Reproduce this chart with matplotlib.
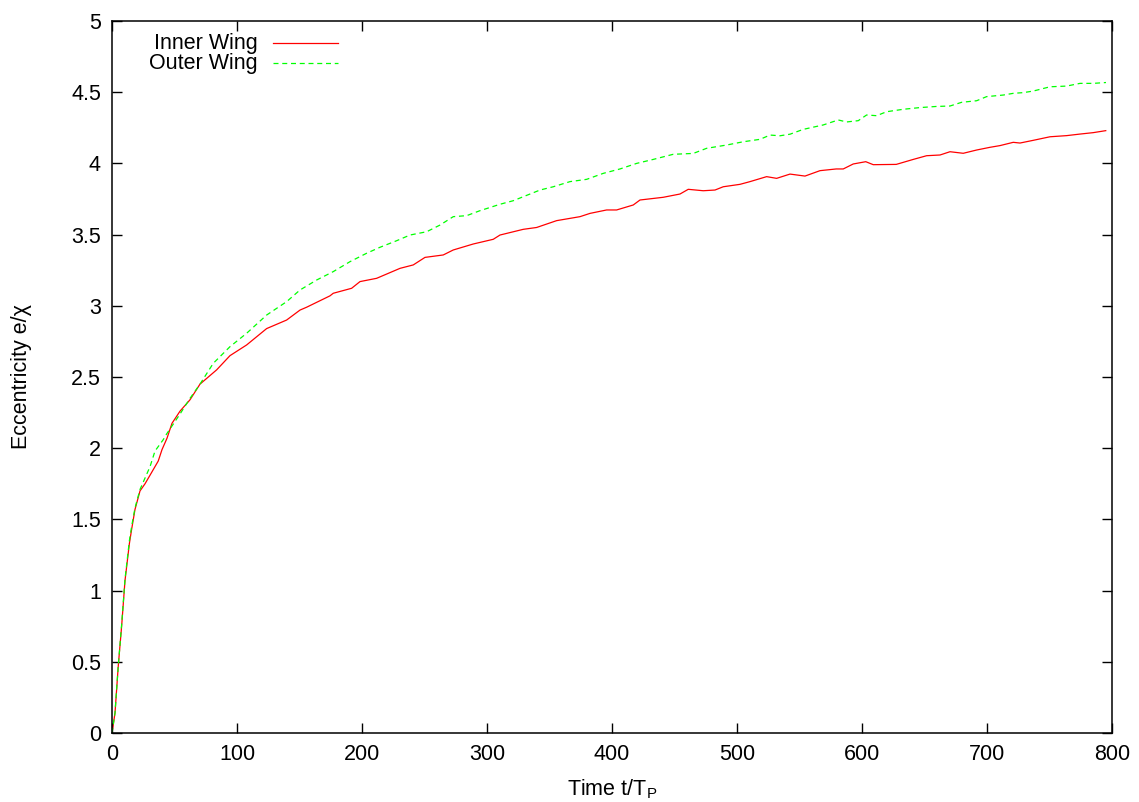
import matplotlib
matplotlib.use('Agg')
import matplotlib.pyplot as plt

# --- data (time t/T_P, eccentricity e/chi) ---
t_inner = [0, 2.4, 5, 7.7, 10.4, 13.9, 15.7, 18.4, 22.4, 26.4, 30.4, 37, 40, 44, 48,
           54.4, 62.4, 70.4, 83.7, 94.4, 107.7, 123.7, 139.7, 150.4, 155.7, 174.4, 177,
           191.7, 198.4, 211.7, 230.4, 241, 250.4, 265, 273, 289, 305, 310.4, 329, 339.7,
           355.7, 374.4, 382.4, 395.7, 403.7, 417, 422.4, 441, 454.4, 461, 473, 482.4,
           489, 502.4, 510.4, 523.7, 531.7, 542.4, 554.4, 566.4, 579.4, 585, 593, 603,
           609, 627.4, 641, 651.7, 662.4, 670.4, 681, 691.7, 702.4, 710.4, 721, 726.4,
           737, 750.4, 763.7, 774.4, 785, 795]
e_inner = [0, 0.14, 0.47, 0.75, 1.07, 1.33, 1.43, 1.57, 1.70, 1.75, 1.81, 1.91, 1.99, 2.07, 2.175,
           2.26, 2.34, 2.45, 2.55, 2.65, 2.725, 2.84, 2.90, 2.97, 2.99, 3.07, 3.088,
           3.123, 3.17, 3.193, 3.263, 3.287, 3.34, 3.357, 3.392, 3.434, 3.467, 3.497, 3.537, 3.55,
           3.598, 3.626, 3.649, 3.673, 3.673, 3.708, 3.743, 3.762, 3.785, 3.818, 3.808, 3.813,
           3.836, 3.853, 3.872, 3.907, 3.895, 3.925, 3.911, 3.949, 3.961, 3.961, 3.996, 4.012,
           3.991, 3.993, 4.028, 4.054, 4.059, 4.082, 4.071, 4.094, 4.113, 4.125, 4.148, 4.143,
           4.162, 4.187, 4.195, 4.206, 4.216, 4.23]

t_outer = [0, 2.4, 5, 7.7, 10.4, 13.9, 15.7, 18.4, 22.4, 26.4, 30.4, 34.4, 41, 43.7, 54.4,
           62.4, 70.4, 81, 94.4, 107.7, 123.7, 139.7, 150.4, 163.7, 177, 190.4, 203.7,
           214.4, 227.7, 238.4, 251.7, 262.4, 273, 283.7, 294.4, 310.4, 321, 337, 342.4,
           353, 366.4, 379.7, 393, 406.4, 419.7, 433, 449, 465, 475.7, 491.7, 505, 518.4,
           526.4, 534.4, 542.4, 553, 569, 581, 587.7, 597, 603.7, 611.7, 619.7, 633, 646.4,
           659.7, 670.4, 679.7, 691.7, 699.7, 713, 721, 729, 737, 750.4, 763.7, 774.4, 785, 795.2]
e_outer = [0, 0.14, 0.47, 0.76, 1.08, 1.35, 1.45, 1.58, 1.71, 1.79, 1.87, 1.98, 2.06, 2.10, 2.24,
           2.35, 2.45, 2.596, 2.713, 2.807, 2.935, 3.029, 3.111, 3.181, 3.24, 3.31, 3.369,
           3.411, 3.457, 3.497, 3.52, 3.567, 3.626, 3.633, 3.668, 3.713, 3.738, 3.794, 3.813,
           3.836, 3.872, 3.888, 3.93, 3.961, 4.0, 4.028, 4.064, 4.07, 4.106, 4.129, 4.152, 4.169,
           4.199, 4.194, 4.205, 4.239, 4.27, 4.305, 4.291, 4.30, 4.34, 4.335, 4.363, 4.38, 4.392,
           4.40, 4.403, 4.429, 4.44, 4.469, 4.48, 4.492, 4.497, 4.508, 4.538, 4.543, 4.562, 4.562, 4.568]

labels = ['Inner Wing', 'Outer Wing']
xticks = [0, 100, 200, 300, 400, 500, 600, 700, 800]
yticks = [0, 0.5, 1, 1.5, 2, 2.5, 3, 3.5, 4, 4.5, 5]

plt.rcParams['font.family'] = ['Liberation Sans', 'DejaVu Sans']
plt.rcParams['font.size'] = 15.5
plt.rcParams['mathtext.default'] = 'regular'

fig = plt.figure(figsize=(11.39, 8.02), dpi=100)
ax = fig.add_axes([112 / 1139, 1 - 733 / 802, 1000 / 1139, 712 / 802])

ax.plot(t_inner, e_inner, color='#ff0000', lw=0.9, label=labels[0])
ax.plot(t_outer, e_outer, color='#00ff00', lw=0.9, dashes=(4, 3), label=labels[1])

ax.set_xlim(0, 800)
ax.set_ylim(0, 5)
ax.set_xticks(xticks)
ax.set_yticks(yticks)
ax.set_yticklabels([('%g' % v) for v in yticks])
ax.tick_params(direction='in', length=7, width=1, top=True, right=True, pad=8)
for s in ax.spines.values():
    s.set_linewidth(1.1)

ax.set_xlabel('Time t/T$_{P}$', labelpad=9)
ax.set_ylabel('Eccentricity e/\u03c7', labelpad=28)

# gnuplot-style key: right-aligned text, sample line on the right
leg_rows = [(labels[0], '#ff0000', '-'), (labels[1], '#00ff00', '--')]
for i, (lab, col, ls) in enumerate(leg_rows):
    yy = 1 - (22 + 20 * i) / 712
    ax.text(146 / 1000, yy, lab, transform=ax.transAxes, ha='right', va='center')
    ln, = ax.plot([161 / 1000, 226 / 1000], [yy, yy], transform=ax.transAxes,
                  color=col, lw=0.9, clip_on=False)
    if ls == '--':
        ln.set_dashes((4, 3))

fig.savefig('out.png', dpi=100)
